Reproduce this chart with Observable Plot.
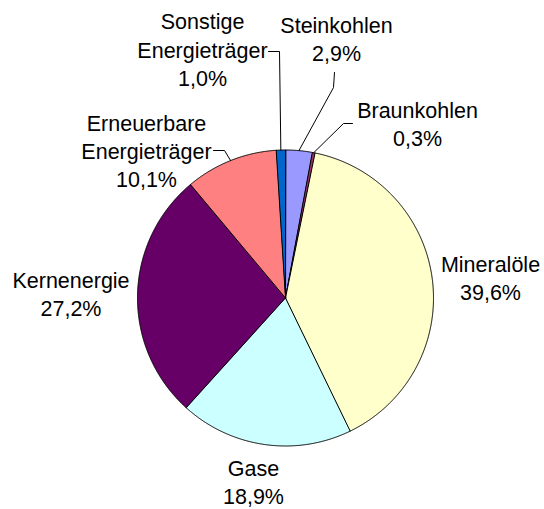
<!DOCTYPE html>
<html><head><meta charset="utf-8">
<script src="https://cdn.jsdelivr.net/npm/d3@7"></script>
<script src="https://cdn.jsdelivr.net/npm/@observablehq/plot@0.6"></script>
<style>html,body{margin:0;padding:0;background:#fff} svg{display:block}</style>
</head><body><div id="chart"></div>
<script>
// ---- data ----
const categories = ["Steinkohlen","Braunkohlen","Mineralöle","Gase","Kernenergie","Erneuerbare Energieträger","Sonstige Energieträger"];
const shares = [2.9, 0.3, 39.6, 18.9, 27.2, 10.1, 1.0];
const valueLabels = ["2,9%","0,3%","39,6%","18,9%","27,2%","10,1%","1,0%"];
const nameLines = [["Steinkohlen"],["Braunkohlen"],["Mineralöle"],["Gase"],["Kernenergie"],["Erneuerbare","Energieträger"],["Sonstige","Energieträger"]];
const colors = ["#9999FF","#993366","#FFFFCC","#CCFFFF","#660066","#FF8080","#0066CC"];

// ---- layout (pixels) ----
const W = 544, H = 509, CX = 285, CY = 297.5, R = 148;
const labelPos = {
  "Steinkohlen": [336, 12],
  "Braunkohlen": [417, 97],
  "Mineralöle": [490, 251],
  "Gase": [253, 455],
  "Kernenergie": [70.5, 267],
  "Erneuerbare Energieträger": [146, 110],
  "Sonstige Energieträger": [202, 8.5]
};
// leader lines: label-side points, then the slice edge (computed)
const leaderPts = {
  "Steinkohlen": [[334, 72], [333, 87]],
  "Braunkohlen": [[352, 123], [343, 123]],
  "Erneuerbare Energieträger": [[213, 150], [224, 150]],
  "Sonstige Energieträger": [[268, 51], [279, 51]]
};

const rows = categories.map((c, i) => ({cat: c, share: shares[i], label: nameLines[i].join("\n") + "\n" + valueLabels[i]}));
const arcs = d3.pie().sort(null).value(d => d.share)(rows);

const px = a => CX + R * Math.sin(a);
const py = a => CY - R * Math.cos(a);

const slicePts = [];
for (const a of arcs) {
  const n = Math.max(2, Math.ceil((a.endAngle - a.startAngle) / 0.005));
  slicePts.push({cat: a.data.cat, x: CX, y: CY});
  for (let k = 0; k <= n; k++) {
    const t = a.startAngle + (a.endAngle - a.startAngle) * k / n;
    slicePts.push({cat: a.data.cat, x: px(t), y: py(t)});
  }
}

const leaderRows = [];
for (const a of arcs) {
  const pts = leaderPts[a.data.cat];
  if (!pts) continue;
  const mid = (a.startAngle + a.endAngle) / 2;
  for (const [x, y] of pts) leaderRows.push({cat: a.data.cat, x, y});
  leaderRows.push({cat: a.data.cat, x: px(mid), y: py(mid)});
}

const labelRows = rows.map(r => ({text: r.label, x: labelPos[r.cat][0], y: labelPos[r.cat][1]}));

const chart = Plot.plot({
  width: W, height: H, margin: 0,
  style: {background: "#fff", fontFamily: "'Liberation Sans', Arial, sans-serif"},
  x: {domain: [0, W], range: [0, W], axis: null},
  y: {domain: [0, H], range: [0, H], axis: null},
  color: {domain: categories, range: colors},
  marks: [
    Plot.line(slicePts, {x: "x", y: "y", z: "cat", fill: "cat", stroke: "#000", strokeWidth: 1, curve: "linear-closed", strokeLinejoin: "miter"}),
    Plot.line(leaderRows, {x: "x", y: "y", z: "cat", stroke: "#000", strokeWidth: 1}),
    Plot.text(labelRows, {x: "x", y: "y", text: "text", lineAnchor: "top", lineHeight: 1.32, fontSize: 21.5, textAnchor: "middle", fill: "#000"})
  ]
});
document.getElementById("chart").appendChild(chart);
</script>
</body></html>
